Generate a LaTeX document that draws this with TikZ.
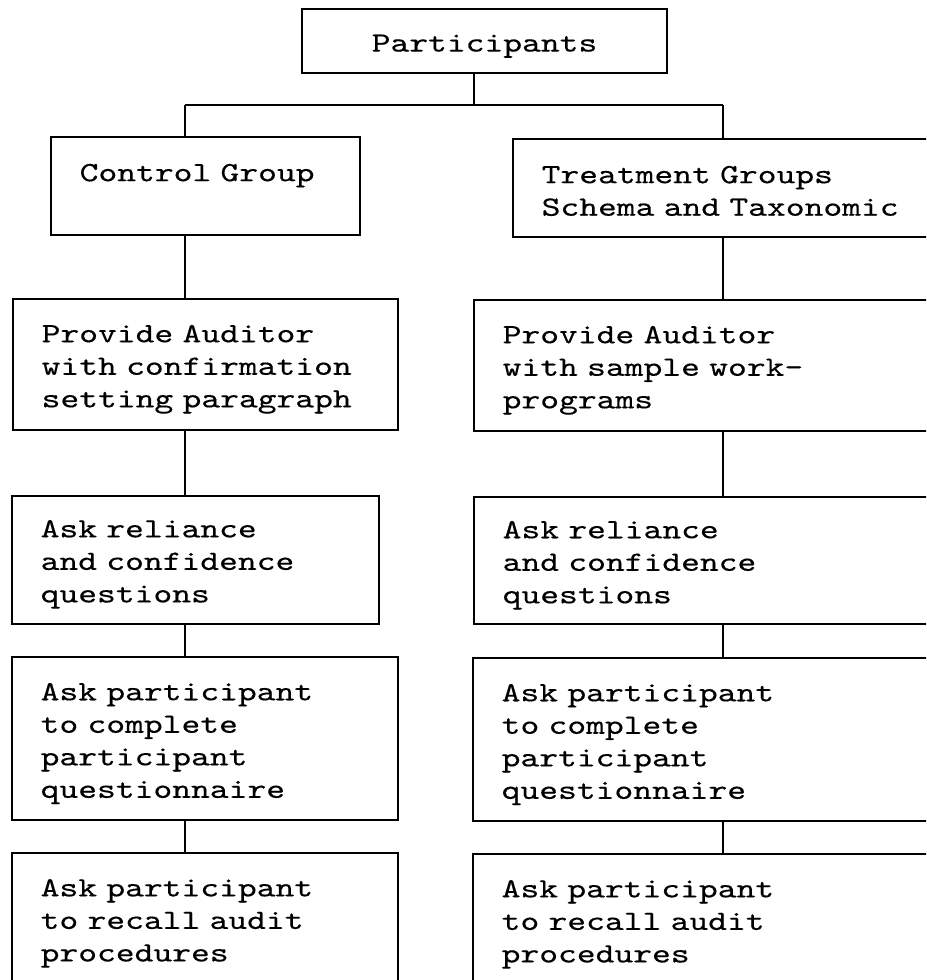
\documentclass[tikz,border=0pt]{standalone}
\usepackage{fontspec}
\newfontfamily\boxfam{lmmono10-regular}[Extension=.otf,FakeStretch=1.285,FakeBold=0.35]
\newcommand{\boxfont}{\boxfam\fontsize{20.9}{24.4}\selectfont}
\begin{document}
\begin{tikzpicture}[x=0.75pt,y=-0.75pt,
  box/.style={draw,line width=1.5pt,anchor=north west,align=left,inner xsep=21.5pt,inner ysep=0pt,font=\boxfont},
  link/.style={line width=1.1pt}]
\useasboundingbox (0,0) rectangle (926,980);
\clip (0,0) rectangle (926,980);
% top of the tree
\node[draw,line width=1.5pt,anchor=north west,minimum width=273.75pt,minimum height=48pt,inner sep=0pt,text height=20.5pt,font=\boxfont] (part) at (301,8) {Participants};
\node[box,text width=188.75pt,minimum height=73.5pt,text depth=20.2pt] (ctrl) at (50,136) {Control Group};
\node[box,text width=317pt,minimum height=73.5pt,text depth=20.2pt] (treat) at (512,138) {Treatment Groups\\Schema and Taxonomic};
% left column
\node[box,text width=245.75pt,minimum height=98.25pt,text depth=46.4pt] (lprov) at (12,298) {Provide Auditor\\with confirmation\\setting paragraph};
\node[box,text width=232.25pt,minimum height=96pt,text depth=47pt] (lrel) at (11,495) {Ask reliance\\and confidence\\questions};
\node[box,text width=246.5pt,minimum height=122.25pt,text depth=70.4pt] (lquest) at (11,656) {Ask participant\\to complete\\participant\\questionnaire};
\node[box,text width=246.5pt,minimum height=150pt,text depth=98pt] (lrecall) at (11,852) {Ask participant\\to recall audit\\procedures};
% right column
\node[box,text width=317pt,minimum height=98.25pt,text depth=46.4pt] (rprov) at (473,299) {Provide Auditor\\with sample work-\\programs};
\node[box,text width=317pt,minimum height=95.25pt,text depth=46.4pt] (rrel) at (473,496) {Ask reliance\\and confidence\\questions};
\node[box,text width=317pt,minimum height=122.25pt,text depth=70.4pt] (rquest) at (472,657) {Ask participant\\to complete\\participant\\questionnaire};
\node[box,text width=317pt,minimum height=150pt,text depth=98pt] (rrecall) at (472,853) {Ask participant\\to recall audit\\procedures};
% connectors
\coordinate (split) at (474,105);
\coordinate (lbr) at (185,105);
\coordinate (rbr) at (723,105);
\draw[link] (part.south -| split) -- (split);
\draw[link] (lbr) -- (rbr);
\draw[link] (lbr) -- (lbr |- ctrl.north);
\draw[link] (rbr) -- (rbr |- treat.north);
\foreach \a/\b in {ctrl/lprov,lprov/lrel,lrel/lquest,lquest/lrecall}
  \draw[link] (lbr |- \a.south) -- (lbr |- \b.north);
\foreach \a/\b in {treat/rprov,rprov/rrel,rrel/rquest,rquest/rrecall}
  \draw[link] (rbr |- \a.south) -- (rbr |- \b.north);
\end{tikzpicture}
\end{document}
